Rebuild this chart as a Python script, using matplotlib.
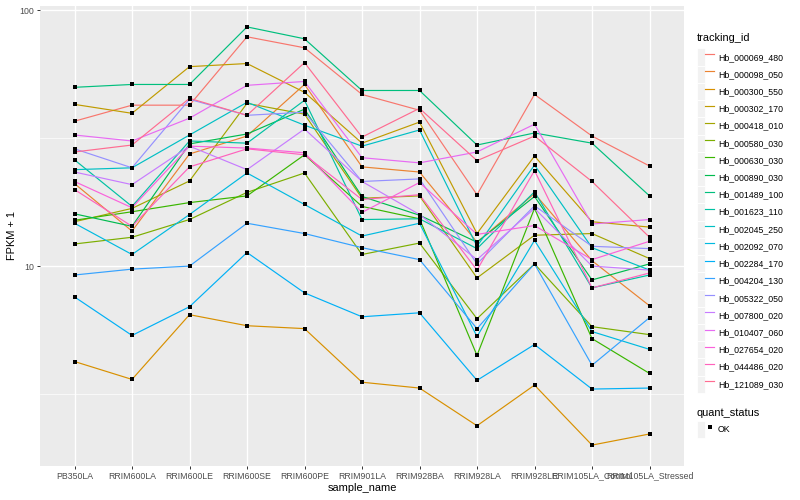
import numpy as np
import matplotlib.pyplot as plt
from matplotlib.lines import Line2D
from matplotlib.patches import Patch
from matplotlib.legend_handler import HandlerTuple

plt.rcParams['font.family'] = ['Liberation Sans', 'DejaVu Sans']

samples = ['PB350LA', 'RRIM600LA', 'RRIM600LE', 'RRIM600SE', 'RRIM600PE', 'RRIM901LA',
           'RRIM928BA', 'RRIM928LA', 'RRIM928LE', 'RRIM105LA_Control', 'RRIM105LA_Stressed']

genes = ['Hb_000069_480', 'Hb_000098_050', 'Hb_000300_550', 'Hb_000302_170', 'Hb_000418_010',
         'Hb_000580_030', 'Hb_000630_030', 'Hb_000890_030', 'Hb_001489_100', 'Hb_001623_110',
         'Hb_002045_250', 'Hb_002092_070', 'Hb_002284_170', 'Hb_004204_130', 'Hb_005322_050',
         'Hb_007800_020', 'Hb_010407_060', 'Hb_027654_020', 'Hb_044486_020', 'Hb_121089_030']

# ggplot hue palette, 20 levels
colors = ['#F8766D', '#EA8331', '#D89000', '#C09B00', '#A3A500', '#7CAE00', '#39B600',
          '#00BB4E', '#00BF7D', '#00C1A3', '#00BFC4', '#00BAE0', '#00B0F6', '#35A2FF',
          '#9590FF', '#C77CFF', '#E76BF3', '#FA62DB', '#FF62BC', '#FF6C91']

# FPKM + 1 per sample
hb_000069_480 = [36.8, 42.5, 42.5, 78.6, 71.2, 46.8, 40.6, 19.0, 46.8, 32.2, 24.6]
hb_000098_050 = [21.0, 13.7, 27.4, 32.2, 51.2, 24.4, 23.3, 12.4, 19.2, 10.5, 7.0]
hb_000300_550 = [4.24, 3.61, 6.46, 5.85, 5.70, 3.52, 3.34, 2.38, 3.43, 2.0, 2.21]
hb_000302_170 = [42.8, 39.5, 60.1, 61.8, 47.7, 30.2, 36.5, 13.4, 26.9, 14.9, 14.2]
hb_000418_010 = [14.9, 16.8, 21.5, 43.2, 39.2, 18.4, 18.8, 8.99, 13.2, 13.4, 10.7]
hb_000580_030 = [12.2, 12.96, 15.2, 19.4, 23.1, 11.1, 12.3, 6.23, 10.2, 5.80, 5.40]
hb_000630_030 = [15.1, 16.3, 17.7, 18.8, 27.2, 17.1, 15.3, 4.48, 16.8, 5.21, 3.81]
hb_000890_030 = [16.0, 14.3, 30.0, 32.8, 41.0, 18.7, 15.8, 12.4, 18.7, 8.83, 10.2]
hb_001489_100 = [49.9, 51.2, 51.2, 85.9, 77.2, 48.5, 48.5, 29.7, 33.1, 30.2, 18.8]
hb_001623_110 = [26.0, 17.1, 30.8, 30.2, 44.4, 15.2, 15.3, 11.7, 19.5, 8.22, 9.23]
hb_002045_250 = [23.8, 24.2, 32.5, 43.6, 35.5, 29.4, 34.0, 11.95, 24.8, 11.8, 9.65]
hb_002092_070 = [14.7, 11.1, 15.9, 23.1, 17.4, 13.1, 14.7, 5.31, 12.6, 5.55, 4.73]
hb_002284_170 = [7.58, 5.36, 6.94, 11.3, 7.86, 6.34, 6.57, 3.58, 4.94, 3.31, 3.34]
hb_004204_130 = [9.23, 9.73, 10.0, 14.7, 13.4, 11.8, 10.6, 5.70, 10.2, 4.10, 6.29]
hb_005322_050 = [28.7, 24.2, 44.8, 38.8, 39.9, 21.4, 21.9, 10.2, 17.2, 11.95, 11.7]
hb_007800_020 = [23.3, 20.8, 29.4, 23.8, 34.3, 21.4, 15.9, 10.6, 16.8, 10.0, 9.65]
hb_010407_060 = [32.5, 30.8, 37.8, 50.8, 52.6, 26.5, 25.3, 27.9, 35.8, 14.6, 15.2]
hb_027654_020 = [21.4, 16.9, 29.4, 28.9, 27.7, 16.2, 21.2, 13.3, 14.4, 10.6, 12.5]
hb_044486_020 = [19.9, 14.3, 24.4, 28.7, 27.2, 18.2, 19.0, 9.65, 23.6, 8.22, 9.4]
hb_121089_030 = [27.9, 29.7, 45.2, 38.8, 62.3, 31.9, 41.3, 25.8, 32.2, 21.4, 12.96]

series = [hb_000069_480, hb_000098_050, hb_000300_550, hb_000302_170, hb_000418_010,
          hb_000580_030, hb_000630_030, hb_000890_030, hb_001489_100, hb_001623_110,
          hb_002045_250, hb_002092_070, hb_002284_170, hb_004204_130, hb_005322_050,
          hb_007800_020, hb_010407_060, hb_027654_020, hb_044486_020, hb_121089_030]

fig = plt.figure(figsize=(8, 5), dpi=100)
ax = fig.add_axes([0.05, 0.068, 0.805, 0.92])
ax.set_facecolor('#EBEBEB')

x = np.arange(len(samples))
for vals, c in zip(series, colors):
    ax.plot(x, vals, color=c, lw=0.85, zorder=3)
for vals in series:
    ax.plot(x, vals, 's', color='black', ms=3.2, mew=0, zorder=4)

ax.set_yscale('log')
allv = np.concatenate([np.array(s) for s in series])
lo, hi = np.log10(allv.min()), np.log10(allv.max())
pad = 0.05 * (hi - lo)
ax.set_ylim(10 ** (lo - pad), 10 ** (hi + pad))
ax.set_xlim(-0.6, len(samples) - 0.4)

ax.set_yticks([10, 100])
ax.set_yticklabels(['10', '100'])
ax.set_yticks([10 ** 0.5, 10 ** 1.5], minor=True)
ax.yaxis.set_minor_formatter(plt.NullFormatter())
ax.set_xticks(x)
ax.set_xticklabels(samples)

ax.grid(True, which='major', color='white', lw=1.0, zorder=0)
ax.grid(True, which='minor', axis='y', color='white', lw=0.5, zorder=0)
ax.set_axisbelow(True)
for s in ax.spines.values():
    s.set_visible(False)
ax.tick_params(axis='both', which='major', length=2.5, width=0.7, color='#333333',
               labelcolor='#4D4D4D', labelsize=6.3, pad=1.5)
ax.tick_params(axis='y', which='minor', length=0)

ax.set_xlabel('sample_name', fontsize=7.9, labelpad=2)
ax.set_ylabel('FPKM + 1', fontsize=7.9, labelpad=2)

# legends (titles as separate text, keys like ggplot's grey boxes)
key_bg = Patch(facecolor='#F2F2F2', edgecolor='white', lw=0.6)
hmap = {tuple: HandlerTuple(ndivide=None, pad=0)}
legkw = dict(loc='upper left', frameon=False, fontsize=6.3, handler_map=hmap,
             handlelength=1.97, handleheight=2.65, labelspacing=0, handletextpad=0.45,
             borderpad=0, borderaxespad=0)

handles = [(key_bg, Line2D([], [], color=c, lw=0.85)) for c in colors]
fig.legend(handles, genes, bbox_to_anchor=(0.871, 0.903), **legkw)
fig.text(0.871, 1 - 38 / 500, 'tracking_id', fontsize=7.9, va='center', ha='left')

ok_handle = (key_bg, Line2D([], [], marker='s', color='black', ls='none', ms=3.2, mew=0))
fig.legend([ok_handle], ['OK'], bbox_to_anchor=(0.871, 0.158), **legkw)
fig.text(0.871, 1 - 413 / 500, 'quant_status', fontsize=7.9, va='center', ha='left')

fig.savefig('out.png', dpi=100)
